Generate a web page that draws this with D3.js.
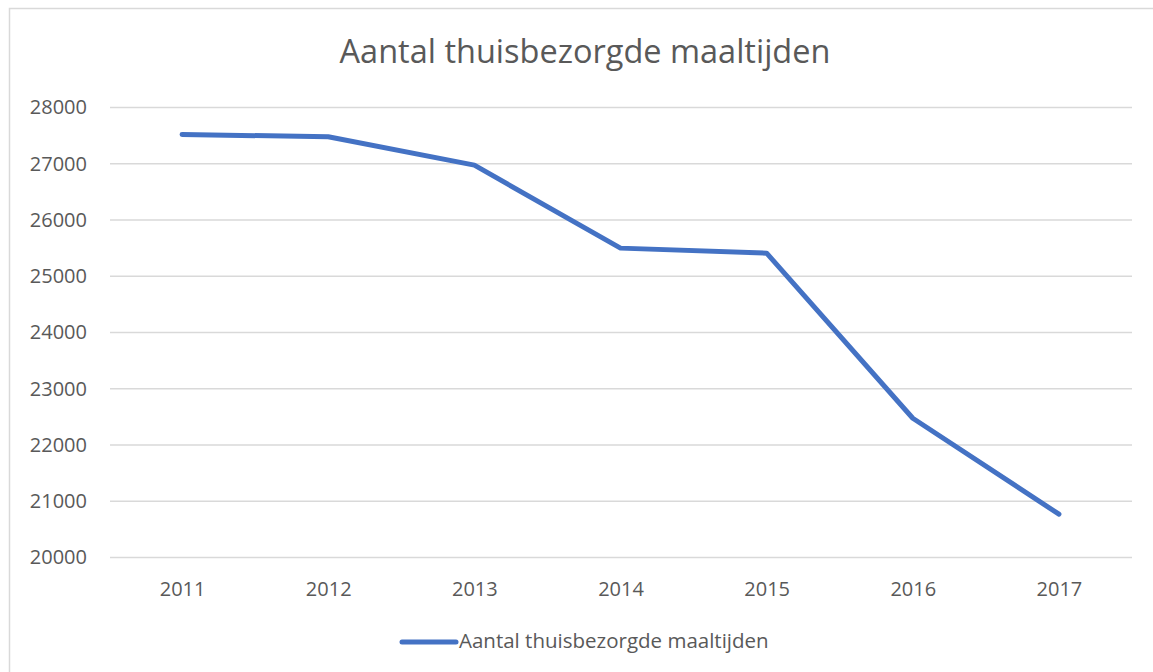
<!DOCTYPE html>
<html>
<head>
<meta charset="utf-8">
<script src="https://cdn.jsdelivr.net/npm/d3@7"></script>
<style>
  body { margin: 0; background: #fff; }
  text { font-family: "Open Sans", "Noto Sans", sans-serif; fill: #595959; }
</style>
</head>
<body>
<script>
// Data
var years = ["2011", "2012", "2013", "2014", "2015", "2016", "2017"]
var meals = [27520, 27480, 26975, 25500, 25410, 22475, 20770]
var yTicks = [20000, 21000, 22000, 23000, 24000, 25000, 26000, 27000, 28000]
var seriesName = "Aantal thuisbezorgde maaltijden"

var svgW = 1153
var svgH = 672
var lineColor = "#4472C4"

var svg = d3.select("body")
            .append("svg")
            .attr("width", svgW)
            .attr("height", svgH)

// Chart border
svg.append("rect")
   .attr("x", 9.5)
   .attr("y", 8.5)
   .attr("width", svgW)
   .attr("height", svgH)
   .style("fill", "none")
   .style("stroke", "#d9d9d9")
   .style("stroke-width", 1.5)

// Scales
var xScale = d3.scalePoint()
               .domain(years)
               .range([109, 1132])
               .padding(0.5)

var yScale = d3.scaleLinear()
               .domain([20000, 28000])
               .range([557.5, 107.5])

// Gridlines
svg.append("g")
   .selectAll("line")
   .data(yTicks)
   .enter()
   .append("line")
     .attr("x1", 110)
     .attr("x2", 1132)
     .attr("y1", function(d) { return yScale(d) })
     .attr("y2", function(d) { return yScale(d) })
     .style("stroke", "#d9d9d9")
     .style("stroke-width", 1.5)

// Y axis labels
var yAxis = d3.axisLeft(yScale).tickValues(yTicks).tickSize(0).tickPadding(0).tickFormat(d3.format("d"))
var yG = svg.append("g")
            .attr("transform", "translate(87,0)")
            .call(yAxis)
yG.select(".domain").remove()
yG.selectAll("text")
  .style("font-size", "20px")
  .attr("fill", "#595959")

// X axis labels
var xAxis = d3.axisBottom(xScale).tickSize(0).tickPadding(0)
var xG = svg.append("g")
            .attr("transform", "translate(0,582)")
            .call(xAxis)
xG.select(".domain").remove()
xG.selectAll("text")
  .style("font-size", "20px")
  .attr("fill", "#595959")

// Data line
var line = d3.line()
             .x(function(d, i) { return xScale(years[i]) })
             .y(function(d) { return yScale(d) })

svg.append("path")
   .datum(meals)
   .attr("d", line)
   .style("fill", "none")
   .style("stroke", lineColor)
   .style("stroke-width", 5)
   .style("stroke-linecap", "round")
   .style("stroke-linejoin", "round")

// Title
svg.append("text")
   .attr("x", 585)
   .attr("y", 63)
   .style("text-anchor", "middle")
   .style("font-size", "32.5px")
   .text(seriesName)

// Legend
svg.append("line")
   .attr("x1", 402)
   .attr("x2", 456)
   .attr("y1", 642)
   .attr("y2", 642)
   .style("stroke", lineColor)
   .style("stroke-width", 5)
   .style("stroke-linecap", "round")

svg.append("text")
   .attr("x", 459)
   .attr("y", 648)
   .style("font-size", "20.5px")
   .text(seriesName)
</script>
</body>
</html>
